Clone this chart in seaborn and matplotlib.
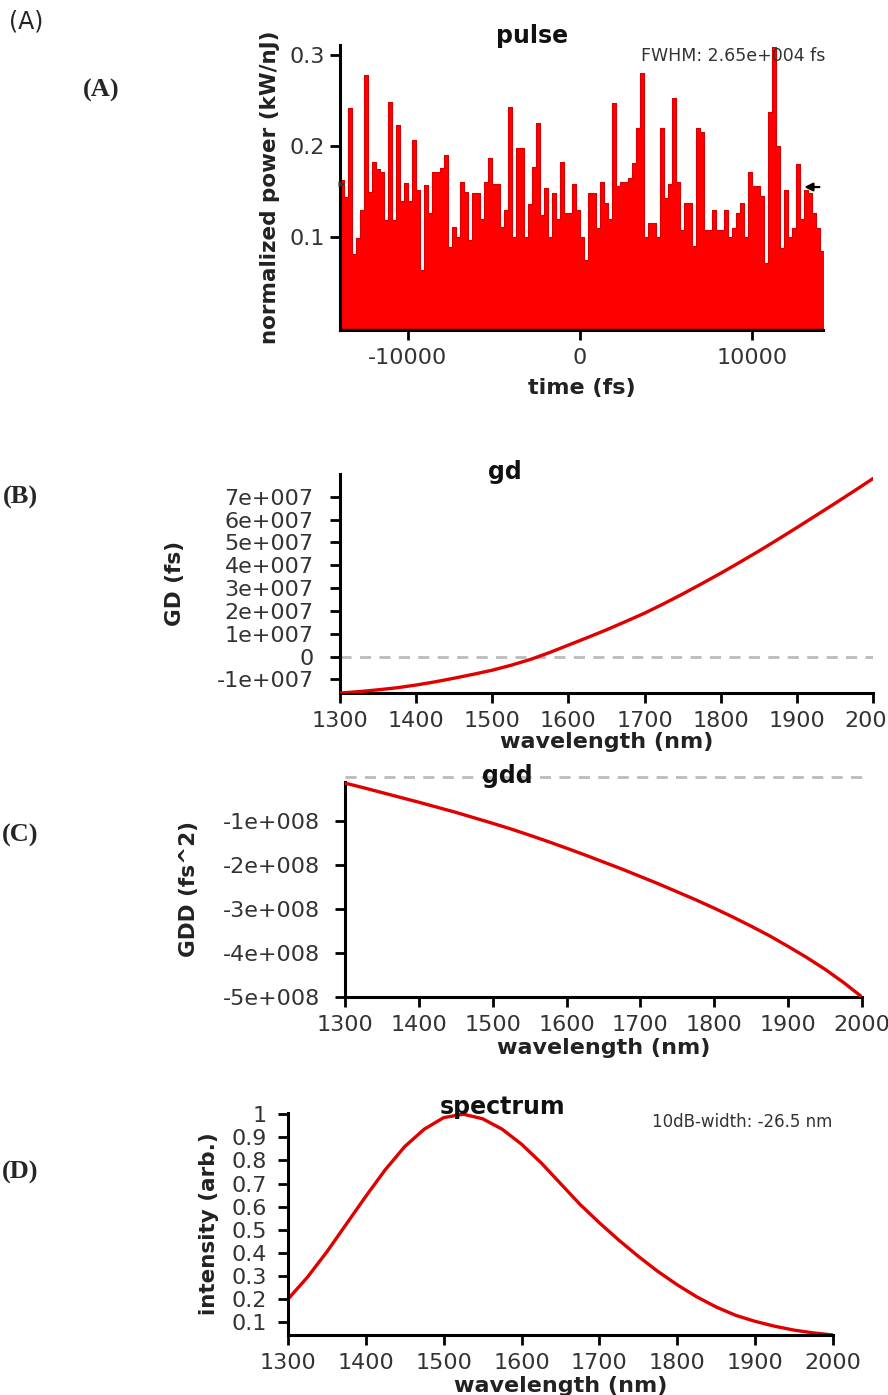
import numpy as np
import pandas as pd
import seaborn as sns
import matplotlib
matplotlib.use("Agg")
import matplotlib.pyplot as plt

# ---- data ----
# (A) pulse: normalized power (kW/nJ), one value per time slot
pulse_power = [
    0.163, 0.163, 0.144, 0.242, 0.082, 0.099, 0.130, 0.278, 0.150, 0.182,
    0.175, 0.172, 0.119, 0.248, 0.119, 0.223, 0.140, 0.159, 0.140, 0.207,
    0.152, 0.064, 0.157, 0.126, 0.171, 0.171, 0.176, 0.190, 0.089, 0.111,
    0.100,
    0.160, 0.150, 0.097, 0.148, 0.148, 0.120, 0.160, 0.187, 0.158, 0.158,
    0.111, 0.130, 0.243, 0.100, 0.198, 0.198, 0.100, 0.136, 0.177, 0.225,
    0.124, 0.154, 0.100, 0.148, 0.120, 0.183, 0.127, 0.127, 0.158, 0.130,
    0.100, 0.075, 0.148, 0.148, 0.110, 0.160, 0.138, 0.120, 0.247, 0.156,
    0.160, 0.160, 0.165, 0.181, 0.220, 0.280, 0.100, 0.115, 0.115, 0.100,
    0.220, 0.143, 0.158, 0.253, 0.160, 0.108, 0.138, 0.138, 0.090, 0.220,
    0.215, 0.108, 0.108, 0.130, 0.108, 0.108, 0.130, 0.100, 0.110, 0.126,
    0.137, 0.100, 0.171, 0.156, 0.156, 0.145, 0.072, 0.237, 0.309, 0.200,
    0.088, 0.152, 0.100, 0.110, 0.180, 0.120, 0.152, 0.148, 0.127, 0.110,
    0.085,
]
pulse_time = np.linspace(-14070, 14070, len(pulse_power))
pulse_xticks = [-10000, 0, 10000]
pulse_yticks = [0.1, 0.2, 0.3]

# wavelength grid (nm) shared by gd / gdd / spectrum
wavelength = [1300, 1325, 1350, 1375, 1400, 1425, 1450, 1475, 1500, 1525,
              1550, 1575, 1600, 1625, 1650, 1675, 1700, 1725, 1750, 1775,
              1800, 1825, 1850, 1875, 1900, 1925, 1950, 1975, 2000]

# (B) group delay (fs)
gd_values = [-1.60e7, -1.54e7, -1.46e7, -1.37e7, -1.25e7, -1.11e7, -0.95e7, -0.78e7,
             -0.60e7, -0.38e7, -0.13e7, 0.17e7, 0.50e7, 0.83e7, 1.17e7, 1.53e7,
             1.90e7, 2.31e7, 2.74e7, 3.19e7, 3.65e7, 4.13e7, 4.62e7, 5.13e7,
             5.65e7, 6.18e7, 6.71e7, 7.25e7, 7.80e7]
gd_yticks = [-1e7, 0, 1e7, 2e7, 3e7, 4e7, 5e7, 6e7, 7e7]
gd_ytick_labels = ["-1e+007", "0", "1e+007", "2e+007", "3e+007",
                   "4e+007", "5e+007", "6e+007", "7e+007"]

# (C) group delay dispersion (fs^2)
gdd_values = [-0.135e8, -0.24e8, -0.35e8, -0.46e8, -0.57e8, -0.685e8, -0.80e8, -0.925e8,
              -1.05e8, -1.18e8, -1.32e8, -1.465e8, -1.615e8, -1.77e8, -1.93e8, -2.09e8,
              -2.26e8, -2.43e8, -2.61e8, -2.79e8, -2.98e8, -3.18e8, -3.39e8, -3.61e8,
              -3.85e8, -4.10e8, -4.37e8, -4.67e8, -5.00e8]
gdd_yticks = [-5e8, -4e8, -3e8, -2e8, -1e8]
gdd_ytick_labels = ["-5e+008", "-4e+008", "-3e+008", "-2e+008", "-1e+008"]

# (D) spectrum
spec_intensity = [0.20, 0.295, 0.405, 0.525, 0.645, 0.76, 0.86, 0.935, 0.985, 1.00,
                  0.98, 0.935, 0.87, 0.79, 0.70, 0.61, 0.53, 0.455, 0.385, 0.32,
                  0.262, 0.21, 0.166, 0.13, 0.104, 0.083, 0.066, 0.054, 0.045]
spec_yticks = [0.1, 0.2, 0.3, 0.4, 0.5, 0.6, 0.7, 0.8, 0.9, 1.0]
spec_ytick_labels = ["0.1", "0.2", "0.3", "0.4", "0.5", "0.6", "0.7", "0.8", "0.9", "1"]

wl_ticks = [1300, 1400, 1500, 1600, 1700, 1800, 1900, 2000]

sns.set_style("ticks")
plt.rcParams["font.family"] = ["DejaVu Sans"]
plt.rcParams["axes.unicode_minus"] = False

RED = "#e00000"
TICK_COLOR = "#333333"
LABEL_COLOR = "#222222"


def rect(left, top, right, bottom):
    # pixel box -> figure fraction
    return [left / 888, 1 - bottom / 1395, (right - left) / 888, (bottom - top) / 1395]


def style_axes(ax, ypad):
    sns.despine(ax=ax)
    for side in ["left", "bottom"]:
        ax.spines[side].set_linewidth(2.2)
        ax.spines[side].set_color("black")
    ax.tick_params(direction="out", length=7, width=2, color="black",
                   labelsize=16, labelcolor=TICK_COLOR)
    ax.tick_params(axis="x", pad=6)
    ax.tick_params(axis="y", pad=ypad)


def labels(ax, xlabel, ylabel, xlab_y, ylab_x):
    ax.set_xlabel(xlabel, fontsize=16, fontweight="bold", color=LABEL_COLOR)
    ax.xaxis.set_label_coords(0.5, xlab_y)
    ax.set_ylabel(ylabel, fontsize=15.5, fontweight="bold", color=LABEL_COLOR)
    ax.yaxis.set_label_coords(ylab_x, 0.5)


fig = plt.figure(figsize=(8.88, 13.95), dpi=100)

# ---- (A) pulse ----
ax = fig.add_axes(rect(340, 45, 823, 330))
dt = pulse_time[1] - pulse_time[0]
pulse_df = pd.DataFrame({"time": pulse_time, "power": pulse_power})
sns.histplot(data=pulse_df, x="time", weights="power", bins=len(pulse_power),
             binrange=(pulse_time[0] - dt / 2, pulse_time[-1] + dt / 2),
             element="step", fill=True, color="#ff0000", alpha=1,
             edgecolor="#d80000", linewidth=0.8, ax=ax)
ax.set_xlim(-13950, 14150)
ax.set_ylim(-0.002, 0.311)
ax.set_xticks(pulse_xticks)
ax.set_yticks(pulse_yticks)
style_axes(ax, ypad=4)
labels(ax, "time (fs)", "normalized power (kW/nJ)", -0.17, -0.125)
ax.text(0.398, 1.03, "pulse", transform=ax.transAxes, ha="center", va="center",
        fontsize=17, fontweight="bold", color="#111111")
ax.text(1.004, 0.96, "FWHM: 2.65e+004 fs", transform=ax.transAxes, ha="right",
        va="center", fontsize=12.5, color="#333333")
ax.annotate("", xy=(12900, 0.155), xytext=(14100, 0.155),
            arrowprops=dict(arrowstyle="-|>", color="black", lw=1.6, mutation_scale=12))
ax.annotate("", xy=(-13650, 0.158), xytext=(-13950, 0.158),
            arrowprops=dict(arrowstyle="-|>", color="#333333", lw=1.0, mutation_scale=8))

# ---- (B) gd ----
ax = fig.add_axes(rect(340, 474, 873, 693))
ax.axhline(0, color="#bbbbbb", lw=2, ls=(0, (4, 3)), zorder=1)
sns.lineplot(x=wavelength, y=gd_values, color=RED, lw=2.4, ax=ax, zorder=3)
ax.set_xlim(1300, 2000)
ax.set_ylim(-1.6e7, 8.0e7)
ax.set_xticks(wl_ticks)
ax.set_yticks(gd_yticks)
ax.set_yticklabels(gd_ytick_labels)
style_axes(ax, ypad=12)
labels(ax, "wavelength (nm)", "GD (fs)", -0.18, -0.29)
ax.text(0.31, 1.01, "gd", transform=ax.transAxes, ha="center", va="center",
        fontsize=17, fontweight="bold", color="#111111")

# ---- (C) gdd ----
ax = fig.add_axes(rect(345, 782, 862, 997))
ax.axhline(0, color="#bbbbbb", lw=2, ls=(0, (4, 3)), zorder=1, clip_on=False)
sns.lineplot(x=wavelength, y=gdd_values, color=RED, lw=2.4, ax=ax, zorder=3)
ax.set_xlim(1300, 2000)
ax.set_ylim(-5e8, -1.1e7)
ax.set_xticks(wl_ticks)
ax.set_yticks(gdd_yticks)
ax.set_yticklabels(gdd_ytick_labels)
style_axes(ax, ypad=11)
labels(ax, "wavelength (nm)", "GDD (fs^2)", -0.19, -0.282)
ax.text(0.313, 1.03, "gdd", transform=ax.transAxes, ha="center", va="center",
        fontsize=17, fontweight="bold", color="#111111")

# ---- (D) spectrum ----
ax = fig.add_axes(rect(288, 1113, 833, 1335))
sns.lineplot(x=wavelength, y=spec_intensity, color=RED, lw=2.4, ax=ax)
ax.set_xlim(1300, 2000)
ax.set_ylim(0.045, 1.005)
ax.set_xticks(wl_ticks)
ax.set_yticks(spec_yticks)
ax.set_yticklabels(spec_ytick_labels)
style_axes(ax, ypad=8)
labels(ax, "wavelength (nm)", "intensity (arb.)", -0.185, -0.127)
ax.text(0.394, 1.025, "spectrum", transform=ax.transAxes, ha="center", va="center",
        fontsize=17, fontweight="bold", color="#111111")
ax.text(0.998, 0.96, "10dB-width: -26.5 nm", transform=ax.transAxes, ha="right",
        va="center", fontsize=12, color="#333333")

# ---- panel labels ----
fig.text(26 / 888, 1 - 22 / 1395, "(A)", ha="center", va="center", fontsize=17)
serif = ["Liberation Serif", "DejaVu Serif"]
fig.text(101 / 888, 1 - 90 / 1395, "(A)", ha="center", va="center", fontsize=19,
         fontweight="bold", family=serif)
fig.text(20 / 888, 1 - 497 / 1395, "(B)", ha="center", va="center", fontsize=19,
         fontweight="bold", family=serif)
fig.text(20 / 888, 1 - 835 / 1395, "(C)", ha="center", va="center", fontsize=19,
         fontweight="bold", family=serif)
fig.text(20 / 888, 1 - 1172 / 1395, "(D)", ha="center", va="center", fontsize=19,
         fontweight="bold", family=serif)

fig.savefig("out.png", dpi=100)
